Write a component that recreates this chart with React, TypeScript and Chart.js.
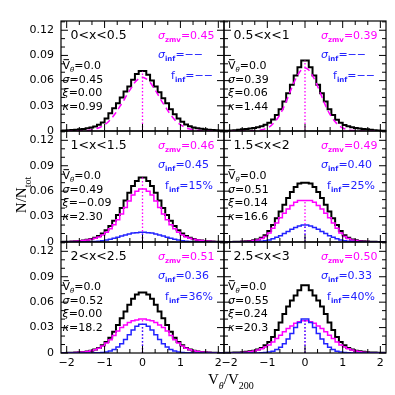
import { useEffect, useRef } from "react";
import { Chart, registerables } from "chart.js";
Chart.register(...registerables);

// ---------- data ----------
const BIN_CENTERS = [-2.15,-2.05,-1.95,-1.85,-1.75,-1.65,-1.55,-1.45,-1.35,-1.25,-1.15,-1.05,-0.95,-0.85,-0.75,-0.65,-0.55,-0.45,-0.35,-0.25,-0.15,-0.05,
  0.05,0.15,0.25,0.35,0.45,0.55,0.65,0.75,0.85,0.95,1.05,1.15,1.25,1.35,1.45,1.55,1.65,1.75,1.85,1.95,2.05,2.15];
const CURVE_X = [-2.0,-1.9,-1.8,-1.7,-1.6,-1.5,-1.4,-1.3,-1.2,-1.1,-1.0,-0.9,-0.8,-0.7,-0.6,-0.5,-0.4,-0.3,-0.2,-0.1,0,
  0.1,0.2,0.3,0.4,0.5,0.6,0.7,0.8,0.9,1.0,1.1,1.2,1.3,1.4,1.5,1.6,1.7,1.8,1.9,2.0];
const X_TICKS = [-2, -1, 0, 1, 2];
const Y_TICKS = [0, 0.03, 0.06, 0.09, 0.12];

const PANEL_LABELS = ["0<x<0.5", "0.5<x<1", "1<x<1.5", "1.5<x<2", "2<x<2.5", "2.5<x<3"];
const SIGMA_ZMV = ["0.45", "0.39", "0.46", "0.49", "0.51", "0.50"];
const SIGMA_INF = ["\u2212\u2212", "\u2212\u2212", "0.45", "0.40", "0.36", "0.33"];
const F_INF = ["\u2212\u2212", "\u2212\u2212", "15%", "25%", "36%", "40%"];
const MEAN_V = ["0.0", "0.0", "0.0", "0.0", "0.0", "0.0"];
const SIGMA = ["0.45", "0.39", "0.49", "0.51", "0.52", "0.55"];
const XI = ["0.00", "0.06", "\u22120.09", "0.14", "0.00", "0.24"];
const KAPPA = ["0.99", "1.44", "2.30", "16.6", "18.2", "20.3"];

// panel 1 (0<x<0.5)
const P1_TOTAL = [0.0003,0.0005,0.0008,0.0011,0.0015,0.002,0.0025,0.0032,0.0042,0.0055,0.0075,0.010,0.015,0.021,0.027,0.033,0.040,0.047,0.053,0.061,0.068,0.0715,
  0.0715,0.067,0.060,0.053,0.046,0.039,0.033,0.026,0.020,0.015,0.011,0.0078,0.0056,0.0043,0.0033,0.0026,0.002,0.0016,0.0012,0.0008,0.0005,0.0003];
const P1_ZMV_CURVE = [0,0.0001,0.0001,0.0002,0.0003,0.0006,0.001,0.0018,0.003,0.0048,0.0075,0.011,0.016,0.022,0.029,0.036,0.044,0.051,0.058,0.062,0.064,
  0.062,0.058,0.051,0.044,0.036,0.029,0.022,0.016,0.011,0.0075,0.0048,0.003,0.0018,0.001,0.0006,0.0003,0.0002,0.0001,0.0001,0];
// panel 2 (0.5<x<1)
const P2_TOTAL = [0.0002,0.0004,0.0007,0.001,0.0015,0.002,0.0025,0.003,0.0037,0.0046,0.0057,0.0073,0.0099,0.0137,0.019,0.026,0.035,0.045,0.055,0.066,0.076,0.084,
  0.084,0.076,0.066,0.055,0.045,0.035,0.026,0.019,0.0135,0.0098,0.0072,0.0056,0.0045,0.0036,0.003,0.0025,0.002,0.0015,0.001,0.0007,0.0004,0.0002];
const P2_ZMV_CURVE = [0,0,0,0,0,0.0001,0.0002,0.0005,0.001,0.0019,0.0036,0.0064,0.011,0.017,0.025,0.035,0.046,0.057,0.066,0.0727,0.075,
  0.0727,0.066,0.057,0.046,0.035,0.025,0.017,0.011,0.0064,0.0036,0.0019,0.001,0.0005,0.0002,0.0001,0,0,0,0,0];
// panel 3 (1<x<1.5)
const P3_TOTAL = [0.0001,0.0002,0.0003,0.0005,0.0008,0.0012,0.0018,0.0026,0.0036,0.005,0.007,0.010,0.014,0.019,0.025,0.032,0.040,0.049,0.058,0.066,0.072,0.076,
  0.076,0.072,0.066,0.058,0.049,0.040,0.032,0.025,0.019,0.014,0.010,0.007,0.005,0.0035,0.0025,0.0018,0.0012,0.0008,0.0005,0.0003,0.0002,0.0001];
const P3_ZMV = [0.0001,0.0002,0.0003,0.0005,0.0008,0.0011,0.0017,0.0023,0.0031,0.0044,0.006,0.0084,0.0116,0.0157,0.0205,0.0263,0.033,0.0407,0.0485,0.0555,0.060,0.0625,
  0.0625,0.060,0.0555,0.0485,0.0407,0.033,0.0263,0.0205,0.0157,0.0116,0.0084,0.006,0.0044,0.0031,0.0023,0.0017,0.0011,0.0008,0.0005,0.0003,0.0002,0.0001];
const P3_INF = [0,0,0,0,0,0,0.0001,0.0002,0.0004,0.0006,0.001,0.0016,0.0024,0.0033,0.0045,0.0057,0.007,0.0083,0.0095,0.0105,0.011,0.0115,
  0.0115,0.011,0.0105,0.0095,0.0083,0.007,0.0057,0.0045,0.0033,0.0024,0.0016,0.001,0.0006,0.0004,0.0002,0.0001,0,0,0,0,0,0];
// panel 4 (1.5<x<2)
const P4_TOTAL = [0,0.0001,0.0001,0.0002,0.0003,0.0005,0.0008,0.0012,0.002,0.003,0.005,0.008,0.013,0.020,0.028,0.036,0.044,0.052,0.059,0.065,0.069,0.070,
  0.070,0.069,0.065,0.059,0.052,0.044,0.036,0.028,0.020,0.013,0.008,0.005,0.003,0.002,0.0012,0.0008,0.0005,0.0003,0.0002,0.0001,0.0001,0];
const P4_ZMV = [0,0.0001,0.0001,0.0002,0.0003,0.0005,0.0007,0.001,0.0017,0.0024,0.004,0.0064,0.0105,0.0162,0.0225,0.0285,0.034,0.039,0.043,0.047,0.049,0.049,
  0.049,0.049,0.047,0.043,0.039,0.034,0.0285,0.0225,0.0162,0.0105,0.0064,0.004,0.0024,0.0017,0.001,0.0007,0.0005,0.0003,0.0002,0.0001,0.0001,0];
const P4_INF = [0,0,0,0,0,0,0.0001,0.0002,0.0003,0.0006,0.001,0.0016,0.0025,0.0038,0.0055,0.0075,0.010,0.0125,0.015,0.017,0.019,0.020,
  0.020,0.019,0.017,0.015,0.0125,0.010,0.0075,0.0055,0.0038,0.0025,0.0016,0.001,0.0006,0.0003,0.0002,0.0001,0,0,0,0,0,0];
// panel 5 (2<x<2.5)
const P5_TOTAL = [0.0001,0.0001,0.0002,0.0003,0.0005,0.0008,0.0012,0.0018,0.0027,0.004,0.006,0.009,0.013,0.018,0.025,0.033,0.041,0.049,0.057,0.064,0.069,0.0715,
  0.0715,0.069,0.064,0.057,0.049,0.041,0.033,0.025,0.018,0.013,0.009,0.006,0.004,0.0027,0.0018,0.0012,0.0008,0.0005,0.0003,0.0002,0.0001,0.0001];
const P5_ZMV = [0.0001,0.0001,0.0002,0.0003,0.0005,0.0008,0.0012,0.0018,0.0026,0.0038,0.0057,0.0083,0.0117,0.0156,0.0208,0.026,0.030,0.033,0.036,0.038,0.039,0.040,
  0.040,0.039,0.038,0.036,0.033,0.030,0.026,0.0208,0.0156,0.0117,0.0083,0.0057,0.0038,0.0026,0.0018,0.0012,0.0008,0.0005,0.0003,0.0002,0.0001,0.0001];
const P5_INF = [0,0,0,0,0,0,0,0,0.0001,0.0002,0.0003,0.0007,0.0013,0.0024,0.0042,0.007,0.011,0.016,0.0215,0.027,0.0315,0.034,
  0.034,0.0315,0.027,0.0215,0.016,0.011,0.007,0.0042,0.0024,0.0013,0.0007,0.0003,0.0002,0.0001,0,0,0,0,0,0,0,0];
// panel 6 (2.5<x<3)
const P6_TOTAL = [0.0001,0.0002,0.0003,0.0005,0.0007,0.001,0.0014,0.002,0.0028,0.004,0.006,0.009,0.013,0.019,0.027,0.036,0.046,0.055,0.062,0.068,0.074,0.080,
  0.080,0.074,0.068,0.062,0.055,0.046,0.036,0.027,0.019,0.013,0.009,0.006,0.004,0.0028,0.002,0.0014,0.001,0.0007,0.0005,0.0003,0.0002,0.0001];
const P6_ZMV = [0,0.0001,0.0002,0.0003,0.0004,0.0007,0.001,0.0016,0.0024,0.0035,0.005,0.007,0.0095,0.013,0.017,0.021,0.025,0.029,0.032,0.035,0.037,0.038,
  0.038,0.037,0.035,0.032,0.029,0.025,0.021,0.017,0.013,0.0095,0.007,0.005,0.0035,0.0024,0.0016,0.001,0.0007,0.0004,0.0003,0.0002,0.0001,0];
const P6_INF = [0,0,0,0,0,0,0,0,0,0.0001,0.0003,0.0006,0.0012,0.0022,0.004,0.0068,0.011,0.0165,0.023,0.030,0.036,0.040,
  0.040,0.036,0.030,0.023,0.0165,0.011,0.0068,0.004,0.0022,0.0012,0.0006,0.0003,0.0001,0,0,0,0,0,0,0,0,0];

// dotted mean-line heights
const MEAN_TOP_ZMV = [0.0715, 0.084, 0.076, 0.049, 0.040, 0.038];
const MEAN_TOP_INF = [null, null, 0.0115, 0.020, 0.034, 0.040];

const TOTALS = [P1_TOTAL, P2_TOTAL, P3_TOTAL, P4_TOTAL, P5_TOTAL, P6_TOTAL];
const ZMV_HIST = [null, null, P3_ZMV, P4_ZMV, P5_ZMV, P6_ZMV];
const ZMV_CURVE = [P1_ZMV_CURVE, P2_ZMV_CURVE, null, null, null, null];
const INF_HIST = [null, null, P3_INF, P4_INF, P5_INF, P6_INF];

// ---------- layout ----------
const W = 395;
const COLS = [[61, 224], [224, 386]];
const ROWS = [[21, 131], [131, 242], [242, 353]];
const X_MIN = -2.15, X_MAX = 2.15, Y_MIN = 0, Y_MAX = 0.131;
const BLACK = "#000000";
const MAGENTA = "#ff00ff";
const BLUE = "#2222ff";
const SANS = "'DejaVu Sans'";
const SERIF = "'Liberation Serif'";

type Part = { t: string; sub?: boolean; it?: boolean; bold?: boolean; over?: boolean };

function fontFor(p: Part, size: number, family: string) {
  const s = p.sub ? Math.round(size * 0.68) : size;
  return `${p.it ? "italic " : ""}${p.bold ? "bold " : ""}${s}px ${family}`;
}

function drawRich(ctx: CanvasRenderingContext2D, x: number, y: number, parts: Part[], size: number, family: string, color: string, align: "left" | "right" | "center" = "left") {
  ctx.save();
  ctx.textBaseline = "alphabetic";
  ctx.textAlign = "left";
  let w = 0;
  const widths = parts.map((p) => {
    ctx.font = fontFor(p, size, family);
    const m = ctx.measureText(p.t).width;
    w += m;
    return m;
  });
  let cx = align === "left" ? x : align === "center" ? x - w / 2 : x - w;
  ctx.fillStyle = color;
  ctx.strokeStyle = color;
  parts.forEach((p, i) => {
    ctx.font = fontFor(p, size, family);
    const yy = p.sub ? y + size * 0.3 : y;
    ctx.fillText(p.t, cx, yy);
    if (p.over) {
      ctx.lineWidth = 1;
      ctx.beginPath();
      ctx.moveTo(cx + 1, y - size * 0.85);
      ctx.lineTo(cx + widths[i] - 1, y - size * 0.85);
      ctx.stroke();
    }
    cx += widths[i];
  });
  ctx.restore();
}

function makePlugin(idx: number) {
  const col = idx % 2;
  return {
    id: "panelDecor" + idx,
    afterDraw(chart: any) {
      const { ctx, chartArea: a } = chart;
      const xs = chart.scales.x;
      const ys = chart.scales.y;
      ctx.save();
      ctx.strokeStyle = BLACK;
      ctx.lineWidth = 1.2;
      ctx.strokeRect(a.left, a.top, a.right - a.left, a.bottom - a.top);
      ctx.lineWidth = 1;
      ctx.beginPath();
      for (let k = -6; k <= 6; k++) {
        const v = k / 3;
        const px = xs.getPixelForValue(v);
        const len = k % 3 === 0 ? 7 : 4;
        ctx.moveTo(px, a.bottom);
        ctx.lineTo(px, a.bottom - len);
        ctx.moveTo(px, a.top);
        ctx.lineTo(px, a.top + len);
      }
      for (let k = 0; k <= 13; k++) {
        const v = k / 100;
        const py = ys.getPixelForValue(v);
        const len = k % 3 === 0 ? 7 : 4;
        ctx.moveTo(a.left, py);
        ctx.lineTo(a.left + len, py);
        ctx.moveTo(a.right, py);
        ctx.lineTo(a.right - len, py);
      }
      ctx.stroke();
      ctx.restore();

      const L = a.left, T = a.top, R = a.right;
      drawRich(ctx, L + 9.5, T + 17.5, [{ t: PANEL_LABELS[idx] }], 12.5, SANS, BLACK);
      drawRich(ctx, L + 97, T + 18, [{ t: "\u03c3", it: true }, { t: "zmv", sub: true, bold: true }, { t: "=" + SIGMA_ZMV[idx] }], 11, SANS, MAGENTA);
      drawRich(ctx, L + 97, T + 37, [{ t: "\u03c3", it: true }, { t: "inf", sub: true, bold: true }, { t: "=" + SIGMA_INF[idx] }], 11, SANS, BLUE);
      drawRich(ctx, R - 11, T + 58, [{ t: "f" }, { t: "inf", sub: true, bold: true }, { t: "=" + F_INF[idx] }], 11, SANS, BLUE, "right");
      const sx = L + (col === 0 ? 1.5 : 4);
      drawRich(ctx, sx, T + 48, [{ t: "V", over: true }, { t: "\u03b8", sub: true, it: true }, { t: "=" + MEAN_V[idx] }], 11, SANS, BLACK);
      drawRich(ctx, sx, T + 61.5, [{ t: "\u03c3", it: true }, { t: "=" + SIGMA[idx] }], 11, SANS, BLACK);
      drawRich(ctx, sx, T + 75, [{ t: "\u03be", it: true }, { t: "=" + XI[idx] }], 11, SANS, BLACK);
      drawRich(ctx, sx, T + 88.5, [{ t: "\u03ba", it: true }, { t: "=" + KAPPA[idx] }], 11, SANS, BLACK);

      if (idx === 4) {
        drawRich(ctx, 208, 384, [{ t: "V" }, { t: "\u03b8", sub: true, it: true }, { t: "/V" }, { t: "200", sub: true }], 15, SERIF, BLACK);
        ctx.save();
        ctx.translate(26, 195);
        ctx.rotate(-Math.PI / 2);
        drawRich(ctx, 0, 0, [{ t: "N/N" }, { t: "tot", sub: true }], 15, SERIF, BLACK, "center");
        ctx.restore();
      }
    },
  };
}

function hist(values: number[]) {
  return BIN_CENTERS.map((x, i) => ({ x, y: values[i] }));
}

function buildConfig(idx: number): any {
  const col = idx % 2;
  const row = Math.floor(idx / 2);
  const [l, r] = COLS[col];
  const [t, b] = ROWS[row];
  const datasets: any[] = [];
  const inf = INF_HIST[idx];
  const zmvH = ZMV_HIST[idx];
  const zmvC = ZMV_CURVE[idx];
  if (MEAN_TOP_INF[idx] !== null) {
    datasets.push({ data: [{ x: 0, y: 0 }, { x: 0, y: MEAN_TOP_INF[idx] }], borderColor: BLUE, borderWidth: 1.3, borderDash: [1.5, 2], pointRadius: 0 });
  }
  if (inf) {
    datasets.push({ data: hist(inf), stepped: "middle", borderColor: BLUE, borderWidth: 1.5, pointRadius: 0 });
  }
  datasets.push({ data: [{ x: 0, y: 0 }, { x: 0, y: MEAN_TOP_ZMV[idx] }], borderColor: MAGENTA, borderWidth: 1.3, borderDash: [1.5, 2], pointRadius: 0 });
  if (zmvH) {
    datasets.push({ data: hist(zmvH), stepped: "middle", borderColor: MAGENTA, borderWidth: 1.5, pointRadius: 0 });
  }
  if (zmvC) {
    datasets.push({ data: CURVE_X.map((x, i) => ({ x, y: zmvC[i] })), borderColor: MAGENTA, borderWidth: 1.5, borderDash: [6, 4], tension: 0.4, cubicInterpolationMode: "monotone", pointRadius: 0 });
  }
  datasets.push({ data: hist(TOTALS[idx]), stepped: "middle", borderColor: BLACK, borderWidth: 2, pointRadius: 0 });

  const tickFont = { family: SANS, size: 11 };
  return {
    type: "line",
    data: { datasets },
    options: {
      animation: false,
      responsive: false,
      devicePixelRatio: 1,
      events: [],
      layout: { padding: { left: 0, top: t, right: W - r, bottom: 0 } },
      plugins: { legend: { display: false }, tooltip: { enabled: false } },
      scales: {
        x: {
          type: "linear",
          min: X_MIN,
          max: X_MAX,
          grid: { display: false, drawTicks: false },
          border: { display: false },
          ticks: {
            display: row === 2,
            autoSkip: false,
            maxRotation: 0,
            padding: 4,
            color: BLACK,
            font: tickFont,
            callback: (v: number) => (v < 0 ? "\u2212" + Math.abs(v) : String(v)),
          },
          afterBuildTicks: (s: any) => { s.ticks = X_TICKS.map((v) => ({ value: v })); },
          afterFit: (s: any) => { s.height = W - b; },
        },
        y: {
          type: "linear",
          min: Y_MIN,
          max: Y_MAX,
          grid: { display: false, drawTicks: false },
          border: { display: false },
          ticks: {
            display: col === 0,
            autoSkip: false,
            padding: 7,
            color: BLACK,
            font: tickFont,
            callback: (v: number) => (v === 0 ? "0" : v.toFixed(2)),
          },
          afterBuildTicks: (s: any) => { s.ticks = Y_TICKS.map((v) => ({ value: v })); },
          afterFit: (s: any) => { s.width = l; },
        },
      },
    },
    plugins: [makePlugin(idx)],
  };
}

export default function App() {
  const refs = useRef<(HTMLCanvasElement | null)[]>([]);
  useEffect(() => {
    const charts = PANEL_LABELS.map((_, i) => new Chart(refs.current[i] as HTMLCanvasElement, buildConfig(i)));
    return () => charts.forEach((c) => c.destroy());
  }, []);
  return (
    <div style={{ position: "absolute", left: 0, top: 0, width: W, height: W, background: "#fff" }}>
      {PANEL_LABELS.map((_, i) => (
        <canvas
          key={i}
          ref={(el) => { refs.current[i] = el; }}
          width={W}
          height={W}
          style={{ position: "absolute", left: 0, top: 0, width: W, height: W }}
        />
      ))}
    </div>
  );
}
